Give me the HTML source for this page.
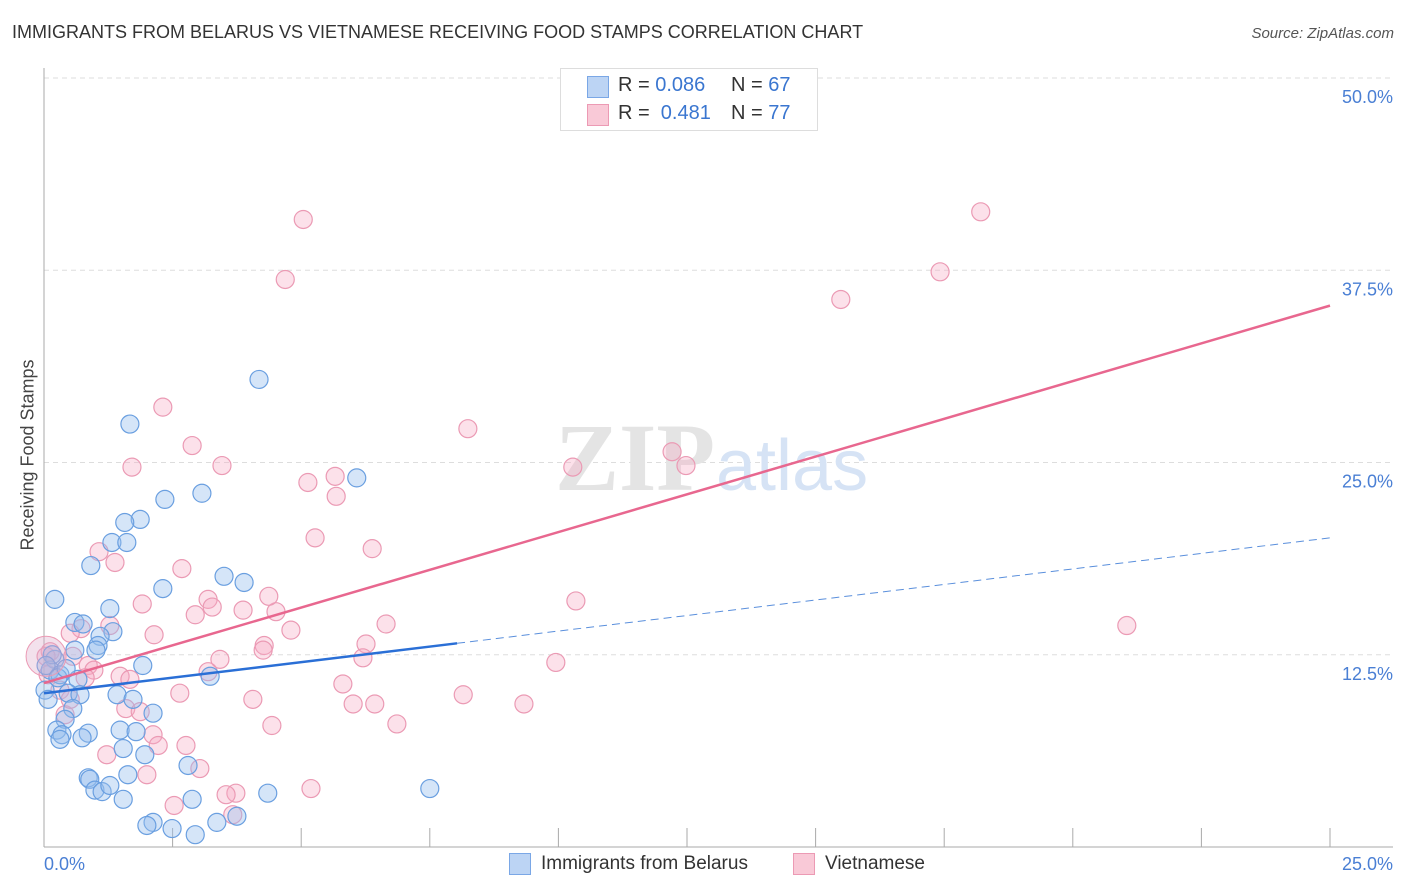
<!DOCTYPE html>
<html><head><meta charset="utf-8"><style>
body{margin:0;background:#fff;font-family:"Liberation Sans",sans-serif;}
#wrap{position:relative;width:1406px;height:892px;overflow:hidden;}
.t{position:absolute;white-space:nowrap;}
</style></head><body>
<div id="wrap">
<div class="t" style="left:12px;top:22px;font-size:18px;color:#333;">IMMIGRANTS FROM BELARUS VS VIETNAMESE RECEIVING FOOD STAMPS CORRELATION CHART</div>
<div class="t" style="right:12px;top:25px;font-size:15px;color:#555;font-style:italic;">Source: ZipAtlas.com</div>
<div class="t" style="left:28px;top:455px;font-size:18px;color:#444;transform:translate(-50%,-50%) rotate(-90deg);">Receiving Food Stamps</div>
<svg id="svg" width="1406" height="892" style="position:absolute;left:0;top:0"></svg>
<div style="position:absolute;left:560px;top:68px;width:256px;height:61px;border:1px solid #ddd;background:#fff;font-size:20px;color:#333;">
 <div style="position:absolute;left:26px;top:7px;width:20px;height:20px;background:#bcd4f4;border:1px solid #7aa7e6;"></div>
 <div class="t" style="left:57px;top:5px;">R = <span style="color:#3a76d0">0.086</span></div>
 <div class="t" style="left:170px;top:5px;">N = <span style="color:#3a76d0">67</span></div>
 <div style="position:absolute;left:26px;top:35px;width:20px;height:20px;background:#f9c9d7;border:1px solid #ec9ab4;"></div>
 <div class="t" style="left:57px;top:33px;">R = &nbsp;<span style="color:#3a76d0">0.481</span></div>
 <div class="t" style="left:170px;top:33px;">N = <span style="color:#3a76d0">77</span></div>
</div>
<div style="position:absolute;left:509px;top:853px;">
 <div style="position:absolute;left:0;top:0;width:20px;height:20px;background:#bcd4f4;border:1px solid #7aa7e6;"></div>
 <div class="t" style="left:32px;top:0px;font-size:19px;color:#333;">Immigrants from Belarus</div>
</div>
<div style="position:absolute;left:793px;top:853px;">
 <div style="position:absolute;left:0;top:0;width:20px;height:20px;background:#f9c9d7;border:1px solid #ec9ab4;"></div>
 <div class="t" style="left:32px;top:0px;font-size:19px;color:#333;">Vietnamese</div>
</div>
</div>
<script>
const xTicks=[0,2.5,5,7.5,10,12.5,15,17.5,20,22.5,25];
const yTicks=[12.5,25,37.5,50];
const yTickLabels=["12.5%","25.0%","37.5%","50.0%"];
const xEndLabels=["0.0%","25.0%"];
const blueX=[4.18,1.67,6.08,3.07,2.35,1.87,1.57,1.32,1.61,0.91,3.50,3.89,2.31,0.21,1.28,0.60,0.76,1.34,1.09,1.05,1.01,1.92,0.21,0.12,0.31,0.66,3.23,0.47,0.70,1.42,1.73,2.12,0.56,0.41,0.25,0.35,0.86,1.48,1.79,0.31,0.74,1.54,1.96,2.80,1.63,0.86,0.89,0.99,1.13,1.28,1.54,4.35,7.50,2.88,2.12,2.00,2.49,2.94,3.36,3.75,0.02,0.08,0.16,0.04,0.27,0.43,0.60];
const blueY=[30.4,27.5,24.0,23.0,22.6,21.3,21.1,19.8,19.8,18.3,17.6,17.2,16.8,16.1,15.5,14.6,14.5,14.0,13.7,13.1,12.8,11.8,12.2,11.5,11.2,10.9,11.1,10.0,9.9,9.9,9.6,8.7,9.0,8.3,7.6,7.3,7.4,7.6,7.5,7.0,7.1,6.4,6.0,5.3,4.7,4.5,4.4,3.7,3.6,4.0,3.1,3.5,3.8,3.1,1.6,1.4,1.2,0.8,1.6,2.0,10.2,9.6,12.5,11.8,11.0,11.6,12.8];
const pinkX=[5.04,18.21,4.69,17.42,15.49,2.31,8.24,2.88,12.21,1.71,3.46,10.28,12.48,5.66,5.13,5.68,1.07,1.38,5.27,6.38,2.68,1.91,3.19,3.27,3.87,4.51,4.37,2.94,10.34,21.05,6.65,0.72,1.28,2.14,0.51,4.80,4.28,6.26,4.26,3.42,6.20,9.95,0.56,0.86,0.97,0.80,1.48,1.67,3.19,2.64,5.81,8.15,4.06,6.01,6.43,9.33,1.59,1.87,0.41,2.12,2.22,2.76,4.43,6.86,1.22,2.00,3.03,5.19,3.73,3.54,2.53,3.67,0.12,0.08,0.31,0.51,0.04];
const pinkY=[40.8,41.3,36.9,37.4,35.6,28.6,27.2,26.1,25.7,24.7,24.8,24.7,24.8,24.1,23.7,22.8,19.2,18.5,20.1,19.4,18.1,15.8,16.1,15.6,15.4,15.3,16.3,15.1,16.0,14.4,14.5,14.2,14.4,13.8,13.9,14.1,13.1,13.2,12.8,12.2,12.3,12.0,12.4,11.8,11.5,11.0,11.1,10.9,11.4,10.0,10.6,9.9,9.6,9.3,9.3,9.3,9.0,8.8,8.6,7.3,6.6,6.6,7.9,8.0,6.0,4.7,5.1,3.8,3.5,3.4,2.7,2.1,12.7,11.2,10.2,9.6,12.4];
const pinkSize=[];
const pinkLine=[10.66,35.2];
const blueLine=[10.0,20.1];
const blueSolidEnd=8.03;
const X0=44,X1=1330,Y0=847,Y1=78;
const sx=v=>X0+(X1-X0)*v/25;
const sy=v=>Y0-(Y0-Y1)*v/50;
const svg=document.getElementById('svg');
const NS='http://www.w3.org/2000/svg';
function mk(tag,attrs){const e=document.createElementNS(NS,tag);for(const k in attrs)e.setAttribute(k,attrs[k]);svg.appendChild(e);return e;}
// gridlines
yTicks.forEach((v,i)=>{
 const g=mk('line',{x1:X0,x2:1393,y1:sy(v),y2:sy(v),stroke:'#ddd','stroke-dasharray':'5,4'});
 
 
 const t=mk('text',{x:1393,y:sy(v)+25,'text-anchor':'end','font-size':18,fill:'#4a7fd4','font-family':'Liberation Sans, sans-serif'});
 t.textContent=yTickLabels[i];
 
 
});
// axes
const ya=mk('line',{x1:X0,x2:X0,y1:68,y2:Y0,stroke:'#aaa'});


const xa=mk('line',{x1:X0,x2:1393,y1:Y0,y2:Y0,stroke:'#aaa'});


xTicks.forEach(v=>{
 const l=mk('line',{x1:sx(v),x2:sx(v),y1:Y0,y2:828,stroke:'#aaa'});
 
 
});
[[0,'start',44],[25,'end',1393]].forEach((a,i)=>{
 const t=mk('text',{x:a[2],y:870,'text-anchor':a[1],'font-size':18,fill:'#4a7fd4','font-family':'Liberation Sans, sans-serif'});
 t.textContent=xEndLabels[i];
 
 
});
// watermark
const w1=mk('text',{x:555,y:490,'font-size':96,fill:'#e4e4e4','font-family':'Liberation Serif, serif','font-weight':'bold'});
w1.textContent='ZIP';


const w2=mk('text',{x:716,y:490,'font-size':72,fill:'#d6e3f5','font-family':'Liberation Sans, sans-serif'});
w2.textContent='atlas';


// points
function pts(xs,ys,fill,stroke,name){
 xs.forEach((x,i)=>{
  const c=mk('circle',{cx:sx(x),cy:sy(ys[i]),r:9,fill:fill,stroke:stroke,'stroke-width':1.2});
  
  
 });
}
pts(pinkX,pinkY,'rgba(245,170,195,0.35)','#eb9ab4','vietnamese-point');
pts(blueX,blueY,'rgba(150,190,238,0.4)','#6a9fe0','belarus-point');
const big=mk('circle',{cx:sx(0.04),cy:sy(12.4),r:20,fill:'rgba(220,170,200,0.35)',stroke:'#eb9ab4'});


// trend lines
const pl=mk('line',{x1:sx(0),y1:sy(pinkLine[0]),x2:sx(25),y2:sy(pinkLine[1]),stroke:'#e8678f','stroke-width':2.5});


const by=v=>blueLine[0]+(blueLine[1]-blueLine[0])*v/25;
const bl=mk('line',{x1:sx(0),y1:sy(by(0)),x2:sx(blueSolidEnd),y2:sy(by(blueSolidEnd)),stroke:'#2a6fd6','stroke-width':2.5});


const bd=mk('line',{x1:sx(blueSolidEnd),y1:sy(by(blueSolidEnd)),x2:sx(25),y2:sy(by(25)),stroke:'#5a8fdc','stroke-width':1,'stroke-dasharray':'8,5'});


</script>
</body></html>
